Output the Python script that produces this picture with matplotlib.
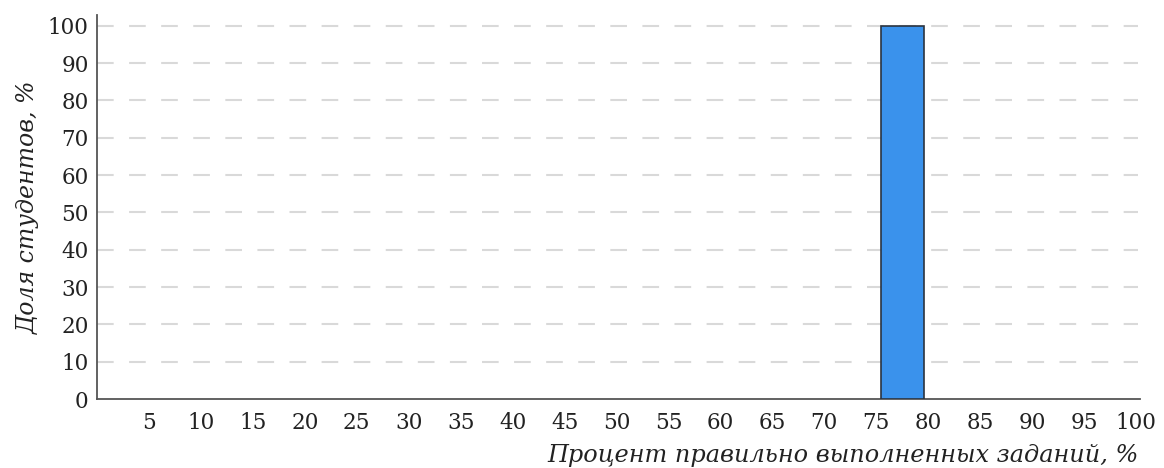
import matplotlib.pyplot as plt
import numpy as np

bin_starts = list(range(0, 100, 5))
shares = [0, 0, 0, 0, 0, 0, 0, 0, 0, 0, 0, 0, 0, 0, 0, 100, 0, 0, 0, 0]
tick_values = list(range(5, 105, 5))
y_ticks = list(range(0, 110, 10))

plt.rcParams['font.family'] = 'DejaVu Serif'

fig = plt.figure(figsize=(11.64, 4.68), dpi=100)
ax = fig.add_axes([0.0833, 0.1474, 0.8963, 0.8206])

centers = np.array(bin_starts) + 2.5
# no outline on empty bins, otherwise they draw over the baseline
edge_widths = [1.2 if s > 0 else 0 for s in shares]
ax.bar(centers, shares, width=4.1, color='#3a92ec', edgecolor='#2b3440', linewidth=edge_widths, zorder=3)

ax.set_xlim(0, 100.4)
ax.set_ylim(0, 102.9)
ax.set_xticks(tick_values)
ax.set_xticklabels([str(v) for v in tick_values])
ax.set_yticks(y_ticks)
ax.tick_params(axis='both', length=0, labelsize=15.5, colors='#222222')
ax.tick_params(axis='x', pad=9)
ax.tick_params(axis='y', pad=6)

for y in y_ticks[1:]:
    ax.axhline(y, xmin=0.0, xmax=0.998, color='#d9d9d9', linestyle=(0, (8, 7.4)), linewidth=1.5, zorder=1)

for side in ['top', 'right']:
    ax.spines[side].set_visible(False)
for side in ['left', 'bottom']:
    ax.spines[side].set_color('#555555')
    ax.spines[side].set_linewidth(1.3)
ax.spines['left'].set_zorder(4)

ax.set_ylabel('Доля студентов, %', fontsize=17, style='italic', color='#222222', labelpad=6)
fig.text(0.978, 0.032, 'Процент правильно выполненных заданий, %', fontsize=17.3,
         style='italic', color='#222222', ha='right', va='center_baseline')

fig.savefig('out.png', dpi=100)
